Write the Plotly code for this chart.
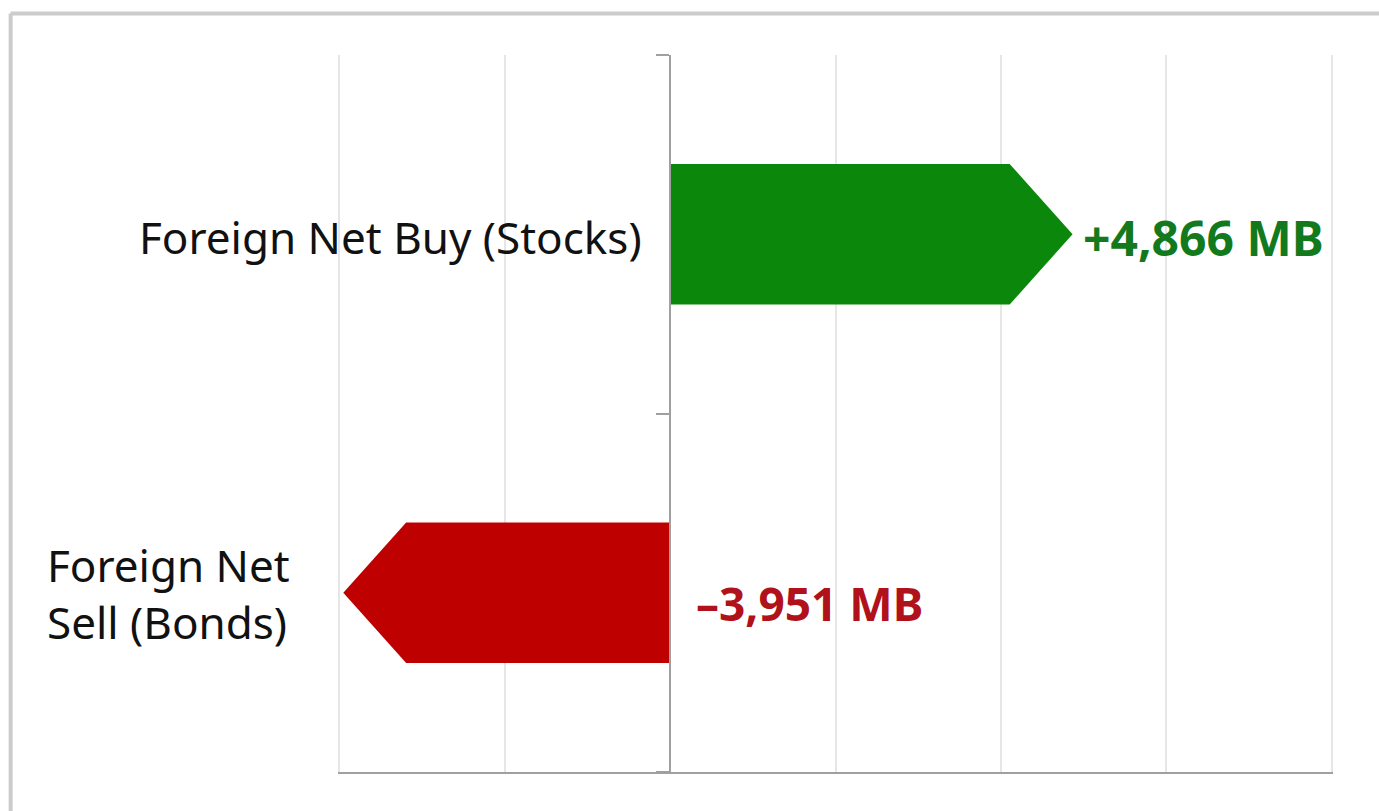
import plotly.graph_objects as go

# Data
categories = ["Foreign Net Buy (Stocks)", "Foreign Net<br>Sell (Bonds)"]
values = [4866, -3951]
value_labels = ["+4,866 MB", "\u20133,951 MB"]
bar_colors = ["#0b870b", "#bf0000"]
text_colors = ["#127a1c", "#b0111a"]

X_MIN, X_MAX, X_STEP = -4000, 8000, 2000
PAD = 15            # tiny pad so the edge gridlines are still drawn
HALF = 0.196        # half bar thickness (category units)
TIP = 760           # arrow head length (data units)

fig = go.Figure()

# arrow-shaped bars
for i, (v, c) in enumerate(zip(values, bar_colors)):
    sgn = 1 if v >= 0 else -1
    neck = v - sgn * TIP
    fig.add_trace(
        go.Scatter(
            x=[0, neck, v, neck, 0, 0],
            y=[i - HALF, i - HALF, i, i + HALF, i + HALF, i - HALF],
            mode="lines",
            fill="toself",
            fillcolor=c,
            line=dict(width=0, color=c),
            hoverinfo="skip",
            showlegend=False,
        )
    )

# value labels
fig.add_annotation(
    x=values[0], y=0, text=f"<b>{value_labels[0]}</b>", showarrow=False,
    xanchor="left", xshift=8, yshift=-3,
    font=dict(family="Noto Sans", size=48, color=text_colors[0]),
)
fig.add_annotation(
    x=0, y=1, text=f"<b>{value_labels[1]}</b>", showarrow=False,
    xanchor="left", xshift=24, yshift=-10,
    font=dict(family="Noto Sans", size=46, color=text_colors[1]),
)

# category labels
fig.add_annotation(
    x=0, y=0, text=categories[0], showarrow=False,
    xanchor="right", xshift=-26, yshift=-3,
    font=dict(family="Noto Sans", size=44, color="#111111"),
)
fig.add_annotation(
    xref="paper", x=-0.294, y=1, text=categories[1], showarrow=False,
    xanchor="left", align="left", yshift=-1,
    font=dict(family="Noto Sans", size=44, color="#111111"),
)

# outer frame (only top and left edges are in view)
fig.add_shape(type="line", xref="paper", yref="paper",
              x0=-0.329, x1=1.2, y0=1.058, y1=1.058,
              line=dict(color="#cccccc", width=4))
fig.add_shape(type="line", xref="paper", yref="paper",
              x0=-0.329, x1=-0.329, y0=-0.2, y1=1.058,
              line=dict(color="#cccccc", width=4))

x_lo, x_hi = X_MIN - PAD, X_MAX + PAD

fig.update_layout(
    width=1379,
    height=811,
    margin=dict(l=338, r=46, t=55, b=39),
    paper_bgcolor="white",
    plot_bgcolor="white",
    showlegend=False,
    xaxis=dict(
        range=[x_lo, x_hi],
        dtick=X_STEP,
        tick0=0,
        showgrid=True,
        gridcolor="#e6e6e6",
        gridwidth=2,
        zeroline=False,
        showticklabels=False,
        showline=True,
        linecolor="#a0a0a0",
        linewidth=2,
        fixedrange=True,
    ),
    yaxis=dict(
        range=[1.5, -0.5],
        anchor="free",
        position=(0 - x_lo) / (x_hi - x_lo),
        tickmode="array",
        tickvals=[-0.5, 0.5, 1.5],
        ticks="outside",
        ticklen=13,
        tickwidth=2,
        tickcolor="#a0a0a0",
        showticklabels=False,
        showgrid=False,
        zeroline=False,
        showline=True,
        linecolor="#a0a0a0",
        linewidth=2,
        fixedrange=True,
    ),
)

fig.write_html(
    "out.html",
    config={"displayModeBar": False},
    post_script="document.body.style.margin='0';",
)
